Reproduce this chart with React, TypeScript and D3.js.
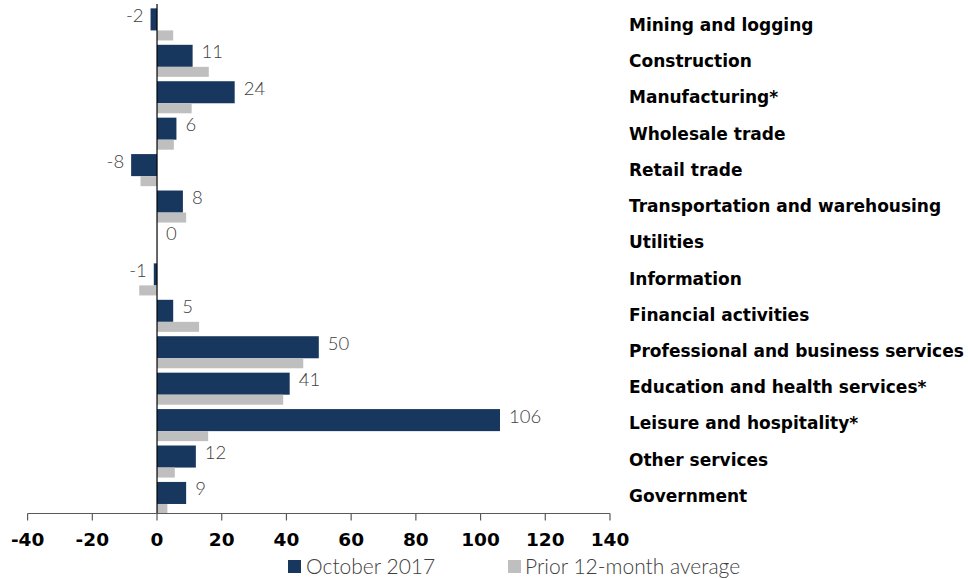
import React from "react";
import * as d3 from "d3";

const categories = [
  "Mining and logging",
  "Construction",
  "Manufacturing*",
  "Wholesale trade",
  "Retail trade",
  "Transportation and warehousing",
  "Utilities",
  "Information",
  "Financial activities",
  "Professional and business services",
  "Education and health services*",
  "Leisure and hospitality*",
  "Other services",
  "Government",
];
const october2017 = [-2, 11, 24, 6, -8, 8, 0, -1, 5, 50, 41, 106, 12, 9];
const prior12Avg = [5, 16, 10.7, 5.2, -5.1, 9, 0, -5.5, 13, 45.2, 39, 15.8, 5.5, 3.2];
const xTicks = [-40, -20, 0, 20, 40, 60, 80, 100, 120, 140];
const seriesNames = ["October 2017", "Prior 12-month average"];

const W = 968;
const H = 579;
const DARK = "#17375E";
const GRAY = "#BFBFBF";
const TEXT = "#404040";

export default function App() {
  const x = d3.scaleLinear().domain([-40, 140]).range([27.6, 610]);
  const y = d3.scaleBand<string>().domain(categories).range([4, 514]).padding(0);
  const step = y.step();
  const x0 = x(0);
  const axisY = 513.5;

  return (
    <svg
      width={W}
      height={H}
      style={{ position: "absolute", left: 0, top: 0, background: "#fff" }}
    >
      {categories.map((c, i) => {
        const b = y(c)!;
        const v = october2017[i];
        const g = prior12Avg[i];
        const dy = b + step * 0.12;
        const dh = step * 0.605;
        const gy = dy + dh;
        const gh = step * 0.275;
        return (
          <g key={c}>
            <rect
              x={Math.min(x(v), x0)}
              y={dy}
              width={Math.abs(x(v) - x0)}
              height={dh}
              fill={DARK}
            />
            <rect
              x={Math.min(x(g), x0)}
              y={gy}
              width={Math.abs(x(g) - x0)}
              height={gh}
              fill={GRAY}
            />
            <text
              x={v >= 0 ? x(v) + 9 : x(v) - 7}
              y={dy + dh / 2 - 4}
              dy="0.35em"
              textAnchor={v >= 0 ? "start" : "end"}
              fontFamily="Lato, 'Open Sans', sans-serif"
              fontWeight={300}
              fontSize={18.5}
              fill={TEXT}
            >
              {v}
            </text>
            <text
              x={629}
              y={b + 21 - i * 0.2}
              dy="0.35em"
              fontFamily="'DejaVu Sans', Verdana, sans-serif"
              fontWeight="bold"
              fontSize={17}
              fill="#000"
            >
              {c}
            </text>
          </g>
        );
      })}

      {/* vertical zero axis */}
      <line x1={x0} x2={x0} y1={4} y2={axisY} stroke="#000" strokeWidth={1.2} />

      {/* horizontal axis */}
      <line x1={x(-40)} x2={x(140)} y1={axisY} y2={axisY} stroke="#595959" strokeWidth={1.2} />
      {xTicks.map((t) => (
        <g key={t}>
          <line x1={x(t)} x2={x(t)} y1={axisY} y2={axisY + 7} stroke="#595959" strokeWidth={1.2} />
          <text
            x={x(t)}
            y={540}
            dy="0.35em"
            textAnchor="middle"
            fontFamily="'DejaVu Sans', Verdana, sans-serif"
            fontWeight="bold"
            fontSize={18.5}
            fill="#000"
          >
            {t}
          </text>
        </g>
      ))}

      {/* legend */}
      <rect x={288} y={560} width={13} height={13} fill={DARK} />
      <text
        x={306}
        y={566.5}
        dy="0.35em"
        fontFamily="Lato, 'Open Sans', sans-serif"
        fontWeight={300}
        fontSize={21}
        fill={TEXT}
      >
        {seriesNames[0]}
      </text>
      <rect x={508} y={560} width={13} height={13} fill={GRAY} />
      <text
        x={525}
        y={566.5}
        dy="0.35em"
        fontFamily="Lato, 'Open Sans', sans-serif"
        fontWeight={300}
        fontSize={21}
        fill={TEXT}
      >
        {seriesNames[1]}
      </text>
    </svg>
  );
}
